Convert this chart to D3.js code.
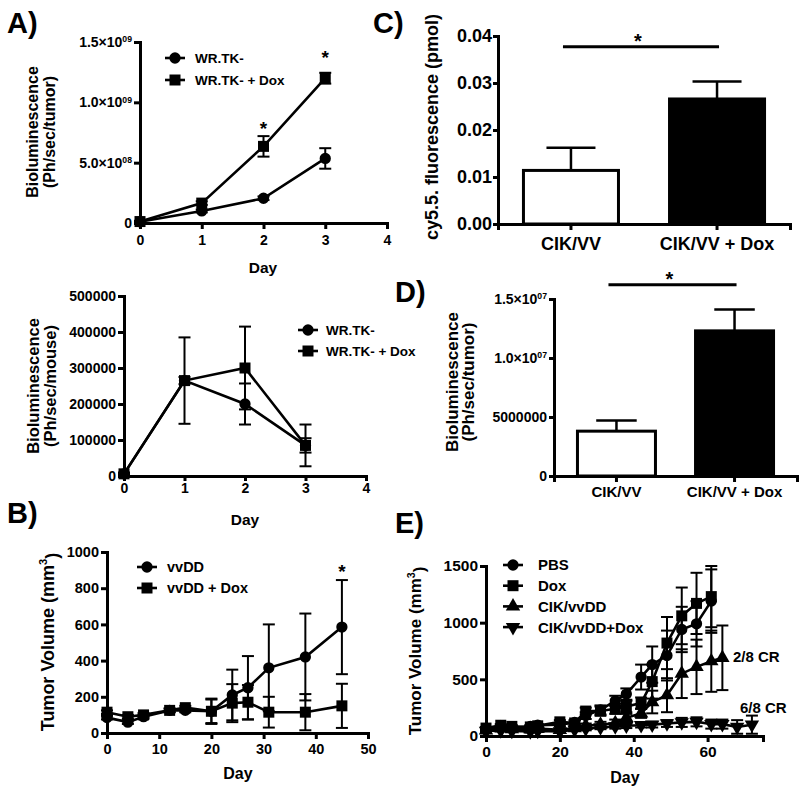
<!DOCTYPE html>
<html>
<head>
<meta charset="utf-8">
<script src="https://cdn.jsdelivr.net/npm/d3@7"></script>
<style>
  body { margin: 0; background: #fff; }
  svg { font-family: "Liberation Sans", Arial, Helvetica, sans-serif; font-weight: bold; }
</style>
</head>
<body>
<script>
// ---- A (top): bioluminescence per tumor
const aDays = [0, 1, 2, 3];
const aTk = [1e7, 1.0e8, 2.05e8, 5.35e8];
const aTkErr = [5e6, 1.2e7, 1.5e7, 8.5e7];
const aDox = [1.2e7, 1.65e8, 6.35e8, 1.2e9];
const aDoxErr = [5e6, 1.5e7, 8.5e7, 4.5e7];
const aStars = [[2, 8.2e8], [3, 1.41e9]];

// ---- A (bottom): bioluminescence per mouse
const a2Tk = [6000, 265000, 200000, 85000];
const a2TkErr = [3000, 10000, 57000, 20000];
const a2Dox = [6000, 265000, 300000, 85000];
const a2DoxErr = [3000, 120000, 115000, 58000];

// ---- B: tumor volume
const bDays = [0, 4, 7, 12, 15, 20, 24, 27, 31, 38, 45];
const bVv = [85, 60, 90, 125, 125, 120, 210, 250, 360, 420, 585];
const bVvErr = [10, 10, 10, 10, 10, 65, 140, 175, 240, 240, 260];
const bDox = [115, 90, 100, 125, 140, 120, 165, 170, 115, 115, 150];
const bDoxErr = [10, 10, 10, 10, 10, 70, 105, 95, 85, 100, 122];
const bStars = [[45, 917]];

// ---- C / D: bars
const cCats = ['CIK/VV', 'CIK/VV + Dox'];
const cVals = [0.0114, 0.0266];
const cErr = [0.0048, 0.0037];
const dVals = [3.8e6, 1.23e7];
const dErr = [0.9e6, 1.8e6];

// ---- E: tumor volume, four groups
const eDays = [0, 4, 7, 12, 14, 20, 24, 27, 31, 35, 38, 42, 45, 49, 53, 57, 61, 64, 68, 72];
const ePbs = [55, 80, 70, 85, 95, 100, 120, 180, 230, 310, 370, 520, 630, 710, 940, 990, 1190];
const ePbsErr = [10, 10, 10, 10, 10, 15, 20, 30, 40, 45, 50, 110, 160, 220, 200, 200, 280];
const eDox = [70, 95, 85, 80, 90, 125, 115, 220, 220, 240, 260, 290, 480, 820, 1060, 1170, 1230];
const eDoxErr = [10, 10, 10, 10, 10, 15, 20, 30, 40, 45, 50, 50, 150, 230, 250, 270, 270];
const eCik = [50, 70, 60, 60, 65, 55, 70, 90, 100, 115, 160, 200, 300, 360, 550, 610, 660, 690];
const eCikErr = [10, 10, 10, 10, 10, 10, 15, 20, 25, 30, 35, 40, 100, 150, 215, 240, 270, 285];
const eCikDox = [45, 50, 45, 40, 45, 40, 55, 65, 75, 85, 90, 95, 100, 110, 120, 125, 105, 105, 80, 100];
const eCikDoxErr = [10, 10, 10, 10, 10, 10, 10, 15, 15, 20, 20, 20, 25, 30, 40, 40, 40, 40, 60, 80];

const svg = d3.select('body').append('svg').attr('width', 800).attr('height', 794);

const SYM = {
  circle: d3.symbol().type(d3.symbolCircle).size(100)(),
  square: d3.symbol().type(d3.symbolSquare).size(121)(),
  tri: d3.symbol().type(d3.symbolTriangle).size(90)()
};

function sci(v, plainBelow) {
  if (v === 0) return ['0'];
  if (v < plainBelow) return [String(v)];
  const e = Math.floor(Math.log10(v) + 1e-9);
  return [(v / 10 ** e).toFixed(1) + '×10', String(e).padStart(2, '0')];
}

function styleAxis(g, fs, parts) {
  g.attr('font-family', null).attr('font-size', fs);
  g.select('.domain').attr('stroke-width', 3);
  g.selectAll('.tick line').attr('stroke-width', 3);
  g.selectAll('.tick text').attr('fill', '#000');
  if (parts) {
    g.selectAll('.tick text').each(function (d) {
      const p = parts(d), t = d3.select(this).text(p[0]);
      if (p[1]) t.append('tspan').attr('dy', '-0.55em').attr('font-size', '0.62em').text(p[1]);
    });
  }
}

function yTitle(lines, cy, fs) {
  lines.forEach(([txt, x, sup, tail]) => {
    const t = svg.append('text').attr('transform', `translate(${x},${cy}) rotate(-90)`)
      .attr('text-anchor', 'middle').attr('font-size', fs).text(txt);
    if (sup) {
      t.append('tspan').attr('dy', '-0.6em').attr('font-size', '0.62em').text(sup);
      t.append('tspan').attr('dy', '0.6em').text(tail);
    }
  });
}

function label(txt, x, y, fs, anchor) {
  svg.append('text').attr('x', x).attr('y', y).attr('font-size', fs)
    .attr('text-anchor', anchor || 'start').text(txt);
}

function marker(g, sym, x, y, rot) {
  g.append('path').attr('d', SYM[sym]).attr('fill', '#000')
    .attr('transform', `translate(${x},${y}) rotate(${rot || 0})`);
}

function linePanel(o) {
  const x = d3.scaleLinear().domain(o.xDom).range(o.xR);
  const y = d3.scaleLinear().domain(o.yDom).range(o.yR);
  const g = svg.append('g');

  g.append('g').attr('transform', `translate(0,${o.yR[0]})`)
    .call(d3.axisBottom(x).tickValues(o.xTicks).tickFormat(d3.format('d'))
      .tickSizeOuter(0).tickSize(o.xTick || 6).tickPadding(o.xPad))
    .call(a => styleAxis(a, o.tickFs));
  g.append('g').attr('transform', `translate(${o.xR[0]},0)`)
    .call(d3.axisLeft(y).tickValues(o.yTicks).tickSizeOuter(0).tickSize(6).tickPadding(o.yPad || 2))
    .call(a => styleAxis(a, o.tickFs, o.yParts || (v => [String(v)])));

  const cap = o.cap || 6;
  o.series.forEach(s => {
    const pts = s.ys.map((v, i) => ({ x: s.xs[i], v, e: s.errs[i] }));
    const sg = g.append('g');
    const lo = d => y(Math.max(o.yDom[0], d.v - d.e)), hi = d => y(d.v + d.e);
    sg.selectAll('line.v').data(pts).join('line')
      .attr('x1', d => x(d.x)).attr('x2', d => x(d.x)).attr('y1', lo).attr('y2', hi)
      .attr('stroke', '#000').attr('stroke-width', 2);
    [lo, hi].forEach(f => sg.selectAll(null).data(pts).join('line')
      .attr('x1', d => x(d.x) - cap).attr('x2', d => x(d.x) + cap).attr('y1', f).attr('y2', f)
      .attr('stroke', '#000').attr('stroke-width', 2));
    sg.append('path').datum(pts)
      .attr('d', d3.line().x(d => x(d.x)).y(d => y(d.v)))
      .attr('fill', 'none').attr('stroke', '#000').attr('stroke-width', 2.6);
    pts.forEach(d => marker(sg, s.sym, x(d.x), y(d.v), s.rot));
  });

  (o.stars || []).forEach(([sx, sv]) =>
    g.append('text').attr('x', x(sx)).attr('y', y(sv) + 0.56 * 19).attr('font-size', 19)
      .attr('text-anchor', 'middle').text('*'));

  o.legend.forEach(([txt, sym, rot], i) => {
    const ly = o.leg.y + i * o.leg.dy;
    g.append('line').attr('x1', o.leg.x - 10).attr('x2', o.leg.x + 10).attr('y1', ly).attr('y2', ly)
      .attr('stroke', '#000').attr('stroke-width', 2.6);
    marker(g, sym, o.leg.x, ly, rot);
    g.append('text').attr('x', o.leg.tx).attr('y', ly + 0.36 * o.leg.fs)
      .attr('font-size', o.leg.fs).text(txt);
  });
  return { x, y };
}

function barPanel(o) {
  const x = d3.scaleBand().domain(cCats).range(o.xR).paddingInner(o.pi).paddingOuter(o.po);
  const y = d3.scaleLinear().domain(o.yDom).range(o.yR);
  const g = svg.append('g');
  const bw = x.bandwidth();
  o.vals.forEach((v, i) => {
    const c = cCats[i], cx = x(c) + bw / 2;
    g.append('line').attr('x1', cx).attr('x2', cx).attr('y1', y(v)).attr('y2', y(v + o.err[i]))
      .attr('stroke', '#000').attr('stroke-width', 2.5);
    g.append('line').attr('x1', cx - bw / 4).attr('x2', cx + bw / 4)
      .attr('y1', y(v + o.err[i])).attr('y2', y(v + o.err[i]))
      .attr('stroke', '#000').attr('stroke-width', 2.5);
    g.append('rect').attr('x', x(c) + 1.5).attr('width', bw - 3)
      .attr('y', y(v)).attr('height', y(0) - y(v))
      .attr('fill', i ? '#000' : '#fff').attr('stroke', '#000').attr('stroke-width', 3);
  });
  g.append('g').attr('transform', `translate(0,${o.yR[0]})`)
    .call(d3.axisBottom(x).tickSizeOuter(0).tickSize(6).tickPadding(o.xPad))
    .call(a => styleAxis(a, o.catFs));
  g.append('g').attr('transform', `translate(${o.xR[0]},0)`)
    .call(d3.axisLeft(y).tickValues(o.yTicks).tickSizeOuter(0).tickSize(5).tickPadding(o.yPad))
    .call(a => styleAxis(a, o.tickFs, o.yParts));
  // significance bar
  const c0 = x(cCats[0]) + bw / 2, c1 = x(cCats[1]) + bw / 2;
  const sy = y(o.sig);
  g.append('line').attr('x1', c0 - 8).attr('x2', c1 + 2).attr('y1', sy).attr('y2', sy)
    .attr('stroke', '#000').attr('stroke-width', 3);
  g.append('text').attr('x', (c0 + c1) / 2 - 6).attr('y', sy - 10 + 0.56 * 20)
    .attr('font-size', 20).attr('text-anchor', 'middle').text('*');
}

// ---------- Panel A (top)
linePanel({
  xDom: [0, 4], xR: [140, 387], yDom: [0, 1.5e9], yR: [223, 42],
  xTicks: [0, 1, 2, 3, 4], yTicks: [0, 5e8, 1e9, 1.5e9], tickFs: 14, xPad: 6,
  yParts: v => sci(v, 1e8),
  series: [
    { xs: aDays, ys: aTk, errs: aTkErr, sym: 'circle' },
    { xs: aDays, ys: aDox, errs: aDoxErr, sym: 'square' }
  ],
  stars: aStars,
  legend: [['WR.TK-', 'circle'], ['WR.TK- + Dox', 'square']],
  leg: { x: 175, y: 58, dy: 22, tx: 195, fs: 13.5 }
});
label('Day', 263, 273, 15.5, 'middle');
yTitle([['Bioluminescence', 38], ['(Ph/sec/tumor)', 55]], 132, 16);

// ---------- Panel A (bottom)
linePanel({
  xDom: [0, 4], xR: [124, 366], yDom: [0, 500000], yR: [476, 296],
  xTicks: [0, 1, 2, 3, 4], yTicks: [0, 100000, 200000, 300000, 400000, 500000],
  tickFs: 14, xPad: 2, xTick: 5,
  series: [
    { xs: aDays, ys: a2Tk, errs: a2TkErr, sym: 'circle' },
    { xs: aDays, ys: a2Dox, errs: a2DoxErr, sym: 'square' }
  ],
  legend: [['WR.TK-', 'circle'], ['WR.TK- + Dox', 'square']],
  leg: { x: 308, y: 330, dy: 21, tx: 326, fs: 13.5 }
});
label('Day', 245, 525, 15.5, 'middle');
yTitle([['Bioluminescence', 39], ['(Ph/sec/mouse)', 56]], 386, 16.5);

// ---------- Panel B
linePanel({
  xDom: [0, 50], xR: [107, 368], yDom: [0, 1000], yR: [733, 552],
  xTicks: [0, 10, 20, 30, 40, 50], yTicks: [0, 200, 400, 600, 800, 1000], tickFs: 14.5, xPad: 5,
  series: [
    { xs: bDays, ys: bVv, errs: bVvErr, sym: 'circle' },
    { xs: bDays, ys: bDox, errs: bDoxErr, sym: 'square' }
  ],
  stars: bStars,
  legend: [['vvDD', 'circle'], ['vvDD + Dox', 'square']],
  leg: { x: 147, y: 567, dy: 21, tx: 167, fs: 14.5 }
});
label('Day', 238, 779, 16, 'middle');
yTitle([['Tumor Volume (mm', 54, '3', ')']], 642, 18);

// ---------- Panel C
barPanel({
  vals: cVals, err: cErr, xR: [498, 790], pi: 0.329, po: 0.164,
  yDom: [0, 0.04], yR: [224, 36], yTicks: [0, 0.01, 0.02, 0.03, 0.04],
  yParts: v => [v.toFixed(2)], tickFs: 18, catFs: 18, xPad: 7, yPad: 1, sig: 0.0377
});
yTitle([['cy5.5. fluorescence (pmol)', 438]], 127, 18);

// ---------- Panel D
barPanel({
  vals: dVals, err: dErr, xR: [554, 797], pi: 0.314, po: 0.186,
  yDom: [0, 1.5e7], yR: [476, 299], yTicks: [0, 5e6, 1e7, 1.5e7],
  yParts: v => sci(v, 1e7), tickFs: 14, catFs: 15, xPad: 4, yPad: 2, sig: 1.62e7
});
yTitle([['Bioluminescence', 458], ['(Ph/sec/tumor)', 474]], 382, 17);

// ---------- Panel E
linePanel({
  xDom: [0, 75], xR: [486, 763], yDom: [0, 1500], yR: [736, 566],
  xTicks: [0, 20, 40, 60], yTicks: [0, 500, 1000, 1500], tickFs: 15.5, xPad: 4,
  series: [
    { xs: eDays, ys: eCikDox, errs: eCikDoxErr, sym: 'tri', rot: 180 },
    { xs: eDays, ys: eCik, errs: eCikErr, sym: 'tri' },
    { xs: eDays, ys: ePbs, errs: ePbsErr, sym: 'circle' },
    { xs: eDays, ys: eDox, errs: eDoxErr, sym: 'square' }
  ],
  legend: [['PBS', 'circle'], ['Dox', 'square'], ['CIK/vvDD', 'tri'], ['CIK/vvDD+Dox', 'tri', 180]],
  leg: { x: 513, y: 565, dy: 20.7, tx: 538, fs: 15 }
});
label('2/8 CR', 733, 662, 15);
label('6/8 CR', 740, 713, 15);
label('Day', 625, 783, 16, 'middle');
yTitle([['Tumor Volume (mm', 421, '3', ')']], 651, 17);

// ---------- panel letters
[['A)', 7, 33], ['B)', 7, 523], ['C)', 373, 33], ['D)', 395, 302], ['E)', 395, 533]]
  .forEach(([t, x, y]) => label(t, x, y, 29));
</script>
</body>
</html>
